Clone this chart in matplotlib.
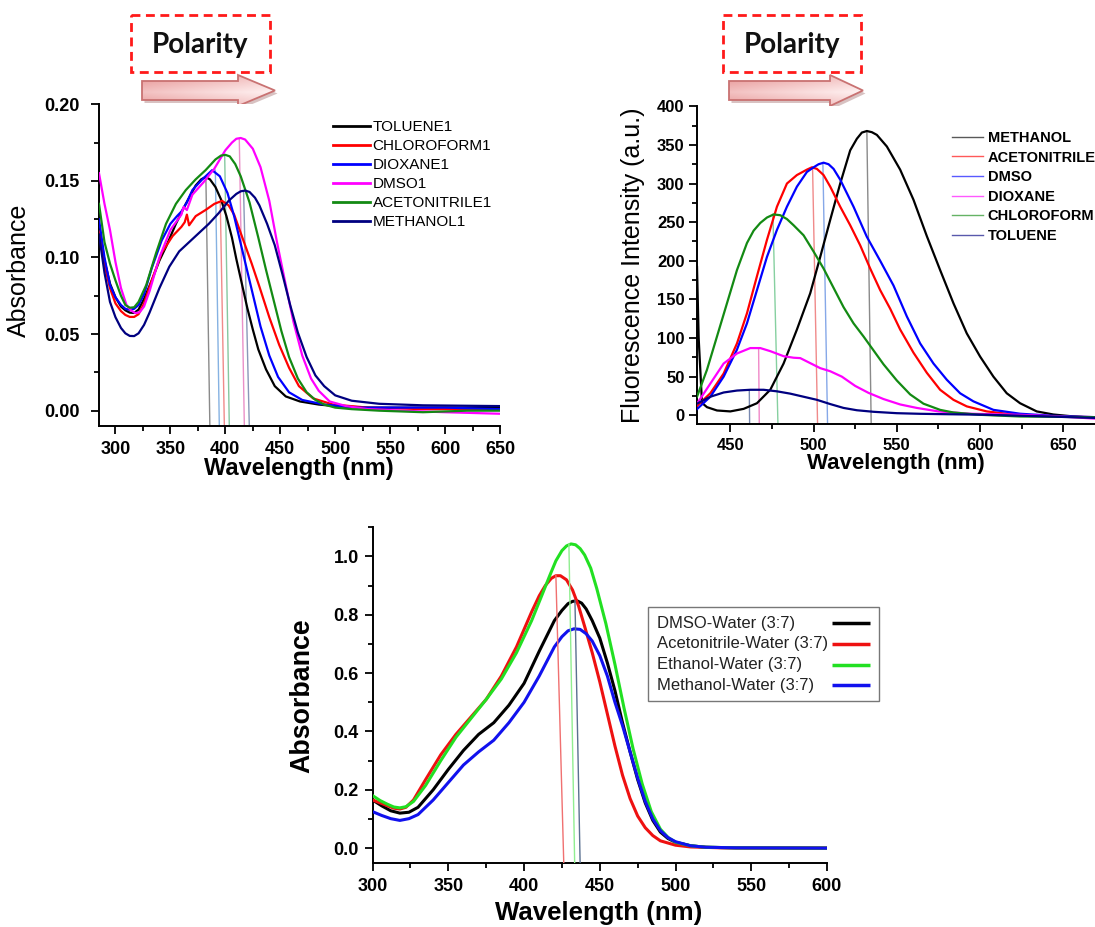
import matplotlib
matplotlib.use("Agg")
import matplotlib.pyplot as plt
import numpy as np
from matplotlib.patches import Polygon, Rectangle
from matplotlib.lines import Line2D
from matplotlib.ticker import MultipleLocator, FormatStrFormatter

plt.rcParams["font.family"] = ["Liberation Sans", "DejaVu Sans"]

W, H = 1095, 927

# ---------- panel A: absorbance in pure solvents ----------
abs_names = ["TOLUENE1", "CHLOROFORM1", "DIOXANE1", "DMSO1", "ACETONITRILE1", "METHANOL1"]
abs_colors = ["#000000", "#ff0000", "#0000ff", "#ff00ff", "#138a13", "#000080"]

tol_wl = [285, 290, 295, 300, 305, 309, 313, 317, 321, 326, 333, 340, 346, 355, 364, 373, 378, 382,
          386, 391, 396, 401, 406, 410, 415, 420, 425, 430, 437, 445, 455, 468, 485, 500, 530, 580, 650]
tol_abs = [0.120, 0.098, 0.083, 0.074, 0.068, 0.0655, 0.064, 0.0638, 0.066, 0.073, 0.085, 0.098, 0.107,
           0.122, 0.135, 0.147, 0.151, 0.1525, 0.151, 0.146, 0.138, 0.127, 0.113, 0.099, 0.083, 0.067,
           0.053, 0.040, 0.027, 0.016, 0.0093, 0.006, 0.004, 0.003, 0.002, 0.002, 0.002]

chl_wl = [285, 290, 295, 300, 305, 309, 313, 317, 321, 326, 333, 342, 352, 360, 363, 365, 367, 373,
          382, 390, 397, 403, 408, 413, 418, 424, 431, 440, 449, 458, 467, 480, 498, 530, 580, 650]
chl_abs = [0.117, 0.095, 0.080, 0.070, 0.065, 0.0625, 0.0612, 0.0612, 0.063, 0.070, 0.085, 0.103,
           0.114, 0.120, 0.123, 0.128, 0.121, 0.127, 0.131, 0.135, 0.137, 0.134, 0.128, 0.118, 0.108,
           0.096, 0.081, 0.061, 0.043, 0.028, 0.016, 0.008, 0.004, 0.002, 0.001, 0.001]

dio_wl = [285, 290, 295, 300, 305, 309, 313, 317, 321, 326, 333, 342, 350, 356, 360, 365, 370, 379,
          388, 395, 402, 408, 414, 420, 426, 432, 440, 448, 458, 470, 490, 520, 560, 600, 650]
dio_abs = [0.125, 0.100, 0.082, 0.074, 0.069, 0.0665, 0.0658, 0.0665, 0.069, 0.076, 0.093, 0.111,
           0.122, 0.127, 0.130, 0.136, 0.144, 0.151, 0.157, 0.153, 0.142, 0.127, 0.109, 0.091, 0.073,
           0.055, 0.036, 0.022, 0.012, 0.007, 0.004, 0.002, 0.002, 0.002, 0.001]

dms_wl = [285, 290, 295, 300, 305, 310, 314, 318, 322, 326, 331, 340, 350, 360, 362, 365, 370, 380,
          390, 400, 406, 410, 414, 418, 425, 432, 440, 447, 455, 462, 470, 478, 485, 495, 510, 530,
          560, 600, 650]
dms_abs = [0.155, 0.135, 0.118, 0.097, 0.080, 0.069, 0.0655, 0.0637, 0.0642, 0.068, 0.078, 0.100,
           0.118, 0.128, 0.133, 0.131, 0.141, 0.149, 0.158, 0.170, 0.175, 0.1775, 0.178, 0.177,
           0.171, 0.159, 0.137, 0.110, 0.082, 0.058, 0.036, 0.021, 0.013, 0.006, 0.003, 0.001, 0.0,
           -0.001, -0.002]

acn_wl = [285, 290, 295, 300, 305, 309, 313, 317, 321, 328, 337, 346, 355, 364, 373, 382, 391, 396,
          400, 404, 409, 414, 422, 430, 437, 444, 451, 458, 466, 474, 482, 490, 500, 515, 540, 580,
          620, 650]
acn_abs = [0.135, 0.110, 0.096, 0.085, 0.075, 0.069, 0.0672, 0.0675, 0.071, 0.082, 0.103, 0.122,
           0.135, 0.144, 0.151, 0.157, 0.164, 0.1665, 0.167, 0.166, 0.161, 0.153, 0.136, 0.113,
           0.092, 0.072, 0.052, 0.035, 0.021, 0.012, 0.007, 0.004, 0.002, 0.001, 0.0, -0.001, 0.0, 0.0]

met_wl = [285, 290, 295, 300, 305, 309, 313, 317, 321, 326, 331, 340, 349, 358, 367, 376, 385, 394,
          403, 410, 414, 418, 422, 427, 431, 438, 445, 452, 459, 466, 474, 482, 490, 500, 515, 540,
          580, 650]
met_abs = [0.115, 0.090, 0.071, 0.061, 0.054, 0.0505, 0.0488, 0.0487, 0.0505, 0.056, 0.064, 0.080,
           0.094, 0.104, 0.110, 0.116, 0.122, 0.129, 0.137, 0.1415, 0.1432, 0.1437, 0.1428, 0.139,
           0.134, 0.122, 0.108, 0.089, 0.069, 0.051, 0.035, 0.023, 0.016, 0.010, 0.0065, 0.0045,
           0.0035, 0.003]

abs_wl = [tol_wl, chl_wl, dio_wl, dms_wl, acn_wl, met_wl]
abs_val = [tol_abs, chl_abs, dio_abs, dms_abs, acn_abs, met_abs]
# peak marker lines: (peak wavelength, peak value, foot wavelength)
abs_marks = [(382.3, 0.1517, 385.9), (395.4, 0.1354, 399.1), (390.9, 0.157, 394.5),
             (412.7, 0.1771, 417.3), (399.4, 0.1669, 403.6), (416.6, 0.1436, 421.8)]
abs_mark_colors = ["#8a8a8a", "#f08a8a", "#86b2e2", "#ea90c8", "#86c8a0", "#8a98b8"]

# ---------- panel B: fluorescence ----------
fl_names = ["METHANOL", "ACETONITRILE", "DMSO", "DIOXANE", "CHLOROFORM", "TOLUENE"]
fl_colors = ["#000000", "#ff0000", "#0000ff", "#ff00ff", "#138a13", "#000080"]

fl_met_wl = [430, 431, 433, 436, 442, 450, 458, 466, 474, 482, 490, 498, 504, 510, 516, 522, 526, 529,
             532, 535, 538, 544, 552, 560, 568, 576, 584, 592, 600, 608, 616, 624, 634, 644, 656, 670]
fl_met = [192, 100, 16, 10.5, 6.2, 5, 8.3, 15.6, 33, 67, 111, 158, 205, 253, 300, 343, 358, 366,
          368, 366.5, 363, 348, 318, 279, 232, 188, 145, 106, 76, 50, 28.5, 15.6, 5, 1, -1.5, -3.5]

fl_acn_wl = [430, 438, 446, 454, 460, 466, 472, 478, 484, 490, 496, 499, 502, 506, 510, 516, 522, 528,
             534, 540, 546, 552, 560, 568, 576, 584, 592, 604, 616, 634, 650, 670]
fl_acn = [12, 28.5, 54, 93, 132, 180, 227, 270, 300, 311, 318, 321, 319, 311, 296, 270, 246, 220,
          190, 162, 138, 111, 81, 55, 33, 20, 11.5, 5, 2, -0.7, -1.5, -2.5]

fl_dms_wl = [430, 438, 446, 454, 460, 466, 472, 478, 484, 490, 496, 500, 503, 506, 509, 512, 516, 524,
             532, 540, 548, 556, 564, 572, 580, 588, 596, 608, 624, 644, 670]
fl_dms = [8, 24, 50, 85, 119, 162, 205, 240, 270, 296, 315, 321, 325, 327, 325, 319, 305, 270,
          231, 200, 168, 128, 93, 67, 46, 28.5, 18, 7, 2, -0.7, -2.5]

fl_dio_wl = [430, 438, 446, 454, 462, 468, 474, 482, 488, 492, 498, 504, 510, 517, 525, 533, 542, 552,
             562, 575, 594, 624, 648, 670]
fl_dio = [15, 41, 67, 80, 87, 87, 83, 76.5, 74.5, 74, 67.5, 61, 57, 50, 38, 29, 21, 14,
          9.5, 5, 2, 0.6, -1.5, -4.5]

fl_chl_wl = [430, 436, 442, 448, 454, 460, 464, 468, 472, 476, 480, 484, 488, 494, 500, 506, 512, 518,
             524, 530, 536, 542, 550, 558, 566, 576, 584, 600, 624, 670]
fl_chl = [24, 59, 102, 145, 188, 223, 239, 249, 256, 260, 259, 254, 246, 233, 212, 190, 165, 140,
          119, 102, 84, 66, 45, 27, 15, 7, 3.6, 0.6, -1.6, -2.5]

fl_tol_wl = [430, 438, 446, 454, 462, 470, 478, 486, 494, 502, 510, 518, 526, 536, 550, 564, 604, 640, 670]
fl_tol = [15, 24, 29.5, 32, 33, 33, 31, 28, 24, 20, 14.5, 9.5, 6.5, 4.5, 2.7, 1.9, 0.6, -1.5, -3.5]

fl_wl = [fl_met_wl, fl_acn_wl, fl_dms_wl, fl_dio_wl, fl_chl_wl, fl_tol_wl]
fl_val = [fl_met, fl_acn, fl_dms, fl_dio, fl_chl, fl_tol]
fl_marks = [(532, 368, 534.6), (499.4, 321, 502.4), (505.6, 326, 508.4),
            (467, 87, 467.4), (475.6, 260, 478.6), (461.4, 33, 461.6)]
fl_mark_colors = ["#8a8a8a", "#f08a8a", "#86a8e8", "#f088c8", "#86d0a0", "#7888b0"]

# ---------- panel C: absorbance in solvent/water (3:7) ----------
mix_names = ["DMSO-Water (3:7)", "Acetonitrile-Water (3:7)", "Ethanol-Water (3:7)", "Methanol-Water (3:7)"]
mix_colors = ["#000000", "#ee1111", "#22e022", "#1111ee"]

mix_dmso_wl = [300, 306, 312, 318, 324, 330, 340, 350, 360, 370, 380, 390, 400, 410, 420, 425, 429,
               432, 435, 438, 441, 445, 450, 455, 460, 465, 470, 475, 480, 485, 490, 495, 500, 510,
               520, 540, 600]
mix_dmso = [0.165, 0.145, 0.128, 0.12, 0.123, 0.14, 0.20, 0.27, 0.335, 0.39, 0.43, 0.49, 0.565,
            0.675, 0.78, 0.815, 0.838, 0.846, 0.848, 0.84, 0.82, 0.78, 0.72, 0.635, 0.54, 0.43, 0.33,
            0.235, 0.155, 0.095, 0.055, 0.033, 0.02, 0.008, 0.003, 0.001, 0.0]

mix_acn_wl = [300, 305, 310, 314, 318, 322, 327, 335, 345, 355, 365, 375, 385, 395, 405, 410, 414,
              418, 421, 424, 428, 432, 436, 440, 445, 450, 455, 460, 465, 470, 475, 480, 485, 490,
              500, 510, 530, 600]
mix_acn = [0.165, 0.155, 0.145, 0.137, 0.134, 0.14, 0.165, 0.235, 0.32, 0.39, 0.45, 0.51, 0.59,
           0.69, 0.81, 0.865, 0.9, 0.925, 0.934, 0.934, 0.92, 0.885, 0.83, 0.76, 0.67, 0.57, 0.46,
           0.35, 0.25, 0.17, 0.11, 0.07, 0.043, 0.025, 0.01, 0.004, 0.001, 0.0]

mix_eth_wl = [300, 305, 310, 314, 318, 322, 327, 335, 345, 355, 365, 375, 385, 395, 405, 412, 417,
              421, 425, 428, 431, 434, 437, 440, 444, 448, 454, 460, 466, 472, 478, 484, 490, 495,
              500, 510, 520, 540, 600]
mix_eth = [0.18, 0.163, 0.15, 0.141, 0.138, 0.142, 0.16, 0.215, 0.30, 0.38, 0.445, 0.51, 0.58,
           0.67, 0.78, 0.87, 0.935, 0.985, 1.02, 1.036, 1.043, 1.04, 1.027, 1.005, 0.96, 0.89, 0.77,
           0.63, 0.48, 0.34, 0.22, 0.125, 0.065, 0.037, 0.02, 0.008, 0.003, 0.001, 0.0]

mix_met_wl = [300, 306, 312, 318, 324, 330, 340, 350, 360, 370, 380, 390, 400, 410, 420, 425, 429,
              433, 437, 441, 445, 450, 455, 460, 465, 470, 475, 480, 485, 490, 495, 500, 510, 520,
              540, 600]
mix_met = [0.125, 0.112, 0.101, 0.095, 0.101, 0.115, 0.165, 0.225, 0.285, 0.33, 0.37, 0.43, 0.50,
           0.59, 0.69, 0.725, 0.745, 0.752, 0.75, 0.735, 0.71, 0.66, 0.59, 0.50, 0.42, 0.33, 0.24,
           0.16, 0.10, 0.06, 0.036, 0.022, 0.008, 0.003, 0.001, 0.0]

mix_wl = [mix_dmso_wl, mix_acn_wl, mix_eth_wl, mix_met_wl]
mix_val = [mix_dmso, mix_acn, mix_eth, mix_met]
mix_marks = [(421, 0.935, 426.2), (429.6, 1.043, 433.4), (433.6, 0.848, 437.0)]
mix_mark_colors = ["#f07070", "#90ee90", "#5a7090"]


def fig_rect(x0, y0, x1, y1):
    # pixel box (top-left origin) -> figure fraction [left, bottom, width, height]
    return [x0 / W, 1 - y1 / H, (x1 - x0) / W, (y1 - y0) / H]


def style_axes(ax, fs, pad_x, pad_y):
    for s in ["top", "right"]:
        ax.spines[s].set_visible(False)
    for s in ["left", "bottom"]:
        ax.spines[s].set_linewidth(1.4)
    ax.tick_params(which="both", direction="out", width=1.3)
    ax.tick_params(which="major", length=6)
    ax.tick_params(which="minor", length=3.5)
    ax.tick_params(axis="x", pad=pad_x)
    ax.tick_params(axis="y", pad=pad_y)
    for lab in ax.get_xticklabels() + ax.get_yticklabels():
        lab.set_fontsize(fs)
        lab.set_fontweight("bold")


fig = plt.figure(figsize=(W / 100, H / 100), dpi=100)

# overlay for "Polarity" boxes and arrows, in pixel coordinates
ov = fig.add_axes([0, 0, 1, 1])
ov.set_xlim(0, W)
ov.set_ylim(H, 0)
ov.axis("off")


def polarity(x0, x1, tail, head, tip):
    ov.add_patch(Rectangle((x0, 15), x1 - x0, 57, fill=False, edgecolor="#ff1a1a",
                           lw=2.0, linestyle=(0, (3.2, 2.0))))
    ov.text((x0 + x1) / 2, 45, "Polarity", fontsize=20, fontweight="bold",
            family=["Lato", "DejaVu Sans"], ha="center", va="center", color="#111111")
    yc, hb, hh = 90.5, 9.5, 15.5
    pts = [(tail, yc - hb), (head, yc - hb), (head, yc - hh), (tip, yc),
           (head, yc + hh), (head, yc + hb), (tail, yc + hb)]
    shadow = Polygon([(x + 2.5, y + 3) for x, y in pts], closed=True,
                     facecolor="#b89090", edgecolor="none", alpha=0.55)
    ov.add_patch(shadow)
    poly = Polygon(pts, closed=True, facecolor="none", edgecolor="#c97272", lw=1.3, zorder=3)
    ov.add_patch(poly)
    gx = np.linspace(0, 1, 120)
    gy = np.linspace(0, 1, 30)
    GX, GY = np.meshgrid(gx, gy)
    light = 0.55 * GX + 0.45 * (1 - np.abs(GY - 0.55) * 2)
    light = np.clip(light, 0, 1)
    c0 = np.array([0.91, 0.60, 0.60])
    c1 = np.array([1.0, 0.95, 0.95])
    img = c0[None, None, :] * (1 - light[..., None]) + c1[None, None, :] * light[..., None]
    im = ov.imshow(img, extent=(tail, tip, yc + hh, yc - hh), origin="upper",
                   aspect="auto", zorder=2)
    im.set_clip_path(poly)


polarity(131, 270, 142, 238, 275)
polarity(723, 861, 729, 830, 863)

# ---------- panel A ----------
axA = fig.add_axes(fig_rect(99, 104.3, 500, 426))
for wl, val, c in zip(abs_wl, abs_val, abs_colors):
    axA.plot(wl, val, color=c, lw=1.6, zorder=3)
for (pw, pv, fw), c in zip(abs_marks, abs_mark_colors):
    axA.plot([pw, fw], [pv, -0.01], color=c, lw=1.0, zorder=2)
axA.set_xlim(285, 650)
axA.set_ylim(-0.01, 0.20)
axA.xaxis.set_major_locator(MultipleLocator(50))
axA.xaxis.set_minor_locator(MultipleLocator(25))
axA.yaxis.set_major_locator(MultipleLocator(0.05))
axA.yaxis.set_minor_locator(MultipleLocator(0.025))
axA.yaxis.set_major_formatter(FormatStrFormatter("%.2f"))
style_axes(axA, 13, 5, 8)
handlesA = [Line2D([], [], color=c, lw=2.0) for c in abs_colors]
axA.legend(handlesA, abs_names, loc="upper left", bbox_to_anchor=(333 / W, 1 - 120 / H),
           bbox_transform=fig.transFigure, frameon=False, fontsize=11, borderpad=0,
           borderaxespad=0, handlelength=2.4, handletextpad=0.2, labelspacing=0.33)
fig.text(19 / W, 1 - 270 / H, "Absorbance", rotation=90, fontsize=18,
         ha="center", va="center")
fig.text(299 / W, 1 - 468 / H, "Wavelength (nm)", fontsize=17, fontweight="bold",
         ha="center", va="center")

# ---------- panel B ----------
axB = fig.add_axes(fig_rect(697, 106.3, 1095, 424))
for wl, val, c in zip(fl_wl, fl_val, fl_colors):
    axB.plot(wl, val, color=c, lw=1.6, zorder=3)
for (pw, pv, fw), c in zip(fl_marks, fl_mark_colors):
    axB.plot([pw, fw], [pv, -11.3], color=c, lw=1.0, zorder=2)
axB.set_xlim(430, 669)
axB.set_ylim(-11.3, 400)
axB.xaxis.set_major_locator(MultipleLocator(50))
axB.xaxis.set_minor_locator(MultipleLocator(25))
axB.yaxis.set_major_locator(MultipleLocator(50))
axB.yaxis.set_minor_locator(MultipleLocator(25))
style_axes(axB, 12, 4, 3)
handlesB = [Line2D([], [], color=c, lw=1.0, alpha=0.65) for c in fl_colors]
axB.legend(handlesB, fl_names, loc="upper left", bbox_to_anchor=(952 / W, 1 - 131 / H),
           bbox_transform=fig.transFigure, frameon=False,
           prop={"weight": "bold", "size": 10.5}, borderpad=0, borderaxespad=0,
           handlelength=2.15, handletextpad=0.3, labelspacing=0.38)
fig.text(633 / W, 1 - 265 / H, "Fluorescence Intensity (a.u.)", rotation=90, fontsize=18,
         ha="center", va="center")
fig.text(896 / W, 1 - 463 / H, "Wavelength (nm)", fontsize=16, fontweight="bold",
         ha="center", va="center")

# ---------- panel C ----------
axC = fig.add_axes(fig_rect(372.6, 527.3, 827, 862.7))
for wl, val, c in zip(mix_wl, mix_val, mix_colors):
    axC.plot(wl, val, color=c, lw=2.2, zorder=3)
for (pw, pv, fw), c in zip(mix_marks, mix_mark_colors):
    axC.plot([pw, fw], [pv, -0.05], color=c, lw=1.0, zorder=4)
axC.set_xlim(300, 600)
axC.set_ylim(-0.05, 1.1)
axC.xaxis.set_major_locator(MultipleLocator(50))
axC.xaxis.set_minor_locator(MultipleLocator(25))
axC.yaxis.set_major_locator(MultipleLocator(0.2))
axC.yaxis.set_minor_locator(MultipleLocator(0.1))
axC.yaxis.set_major_formatter(FormatStrFormatter("%.1f"))
style_axes(axC, 13, 5, 4)
fig.text(302 / W, 1 - 696 / H, "Absorbance", rotation=90, fontsize=19.3, fontweight="bold",
         ha="center", va="center")
fig.text(599 / W, 1 - 913 / H, "Wavelength (nm)", fontsize=18.6, fontweight="bold",
         ha="center", va="center")

# legend of panel C: labels left-aligned, line samples in a column on the right
top = fig.add_axes([0, 0, 1, 1], zorder=10)
top.set_xlim(0, W)
top.set_ylim(H, 0)
top.axis("off")
top.add_patch(Rectangle((647.6, 607), 231.4, 93.7, facecolor="white", edgecolor="#777777", lw=1.0))
for i, (name, c) in enumerate(zip(mix_names, mix_colors)):
    yy = 623.3 + i * 20.6
    top.text(656.8, yy, name, fontsize=12, ha="left", va="center", color="#222222")
    top.plot([831.7, 870], [yy, yy], color=c, lw=2.5, solid_capstyle="butt")

fig.savefig("out.png", dpi=100)
